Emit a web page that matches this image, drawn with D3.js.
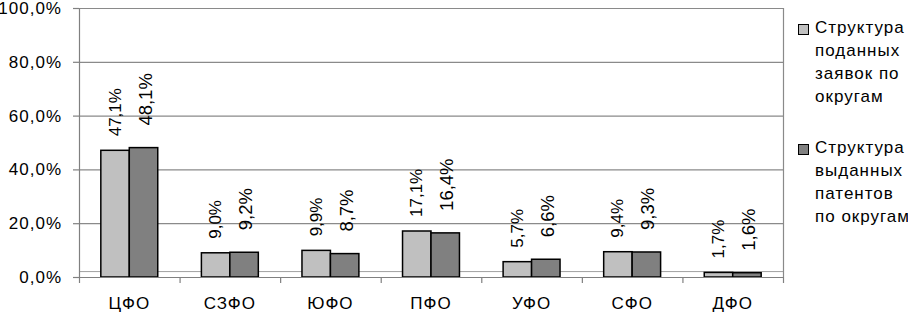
<!DOCTYPE html>
<html>
<head>
<meta charset="utf-8">
<script src="https://cdn.jsdelivr.net/npm/d3@7"></script>
<style>
  body { margin: 0; background: #fff; }
  svg { display: block; }
  text { font-family: "Liberation Sans", Arial, sans-serif; fill: #000; }
</style>
</head>
<body>
<svg></svg>
<script>
// Data
let districts = ['ЦФО', 'СЗФО', 'ЮФО', 'ПФО', 'УФО', 'СФО', 'ДФО'];
let applications = [47.1, 9.0, 9.9, 17.1, 5.7, 9.4, 1.7];
let patents = [48.1, 9.2, 8.7, 16.4, 6.6, 9.3, 1.6];
let yTicks = [0, 20, 40, 60, 80, 100];
let baseLine = [2.2];
let legendLines = [
    ['Структура', 'поданных', 'заявок по', 'округам'],
    ['Структура', 'выданных', 'патентов', 'по округам']
];

// Canvas and plot area
let width = 908;
let height = 315;
let plotLeft = 79;
let plotRight = 783;
let plotTop = 8;
let plotBottom = 277;

let seriesColors = ['#c0c0c0', '#808080'];
let labelLift = [14, 22];
let labelShift = [0, 1.5];
let labelSize = [17, 18.5];

let svg = d3.select('svg').attr('width', width).attr('height', height);

let locale = d3.formatLocale({ decimal: ',', thousands: ' ', grouping: [3], currency: ['', ''] });
let pct = (v) => locale.format('.1f')(v) + '%';

// Scales
let xScale = d3.scaleBand().domain(districts).range([plotLeft, plotRight]);
let bw = xScale.bandwidth();
let xInner = d3.scaleBand().domain([0, 1]).range([bw * 0.217, bw * 0.783]);
let yScale = d3.scaleLinear().domain([0, 100]).range([plotBottom, plotTop]);
let edgeScale = d3.scaleLinear().domain([0, districts.length]).range([plotLeft, plotRight]);

// Gridlines
svg.append('g')
    .selectAll('line')
    .data(yTicks.filter((t) => t > 0))
    .enter()
    .append('line')
    .attr('x1', plotLeft)
    .attr('x2', plotRight)
    .attr('y1', (t) => yScale(t) + 0.5)
    .attr('y2', (t) => yScale(t) + 0.5)
    .attr('stroke', '#8a8a8a')
    .attr('stroke-width', 1.2);

svg.append('g')
    .selectAll('line')
    .data(baseLine)
    .enter()
    .append('line')
    .attr('x1', plotLeft)
    .attr('x2', plotRight)
    .attr('y1', (t) => yScale(t) + 0.5)
    .attr('y2', (t) => yScale(t) + 0.5)
    .attr('stroke', '#a0a0a0')
    .attr('stroke-width', 1);

// Right border of plot area
svg.append('line')
    .attr('x1', plotRight + 0.5)
    .attr('x2', plotRight + 0.5)
    .attr('y1', yScale(100))
    .attr('y2', yScale(0))
    .attr('stroke', '#8a8a8a')
    .attr('stroke-width', 1.2);

// Bars
let series = [applications, patents];
series.forEach((values, i) => {
    svg.append('g')
        .selectAll('rect')
        .data(values)
        .enter()
        .append('rect')
        .attr('x', (v, j) => xScale(districts[j]) + xInner(i))
        .attr('y', (v) => yScale(v))
        .attr('width', xInner.bandwidth())
        .attr('height', (v) => yScale(0) - yScale(v))
        .attr('fill', seriesColors[i])
        .attr('stroke', '#000')
        .attr('stroke-width', 1.5);
});

// Value labels (rotated)
series.forEach((values, i) => {
    svg.append('g')
        .selectAll('text')
        .data(values)
        .enter()
        .append('text')
        .attr('transform', (v, j) => {
            let x = xScale(districts[j]) + xInner(i) + xInner.bandwidth() / 2 + labelShift[i];
            let y = yScale(v) - labelLift[i];
            return 'translate(' + x + ',' + y + ') rotate(-90)';
        })
        .attr('text-anchor', 'start')
        .attr('dominant-baseline', 'central')
        .style('font-size', labelSize[i] + 'px')
        .text((v) => pct(v));
});

// Y axis
let yAxis = d3.axisLeft(yScale)
    .tickValues(yTicks)
    .tickSize(6)
    .tickSizeOuter(0)
    .tickPadding(11)
    .tickFormat((t) => pct(t));

let yG = svg.append('g')
    .attr('transform', 'translate(' + plotLeft + ',0)')
    .call(yAxis);
yG.selectAll('path, line').attr('stroke', '#808080').attr('stroke-width', 1.2);
yG.selectAll('text')
    .style('font-size', '17px')
    .style('letter-spacing', '1px')
    .style('font-family', '"Liberation Sans", Arial, sans-serif');

// X axis: ticks at band edges
let edgeAxis = d3.axisBottom(edgeScale)
    .ticks(districts.length)
    .tickSize(6)
    .tickSizeOuter(0)
    .tickFormat('');
let eG = svg.append('g')
    .attr('transform', 'translate(0,' + plotBottom + ')')
    .call(edgeAxis);
eG.selectAll('path, line').attr('stroke', '#808080').attr('stroke-width', 1.2);

// X axis: category labels
let xAxis = d3.axisBottom(xScale).tickSize(0).tickPadding(20);
let xG = svg.append('g')
    .attr('transform', 'translate(0,' + plotBottom + ')')
    .call(xAxis);
xG.select('.domain').remove();
xG.selectAll('text')
    .style('font-size', '17px')
    .style('letter-spacing', '1px')
    .style('font-family', '"Liberation Sans", Arial, sans-serif');

// Legend
let legend = svg.append('g');
legendLines.forEach((lines, i) => {
    let baseY = 33 + i * 120;
    legend.append('rect')
        .attr('x', 798.5)
        .attr('y', baseY - 8.5)
        .attr('width', 10)
        .attr('height', 10)
        .attr('fill', seriesColors[i])
        .attr('stroke', '#000')
        .attr('stroke-width', 1);
    legend.append('g')
        .selectAll('text')
        .data(lines)
        .enter()
        .append('text')
        .attr('x', 815)
        .attr('y', (d, k) => baseY + k * 23)
        .style('font-size', '17px')
        .style('letter-spacing', '1px')
        .text((d) => d);
});
</script>
</body>
</html>
